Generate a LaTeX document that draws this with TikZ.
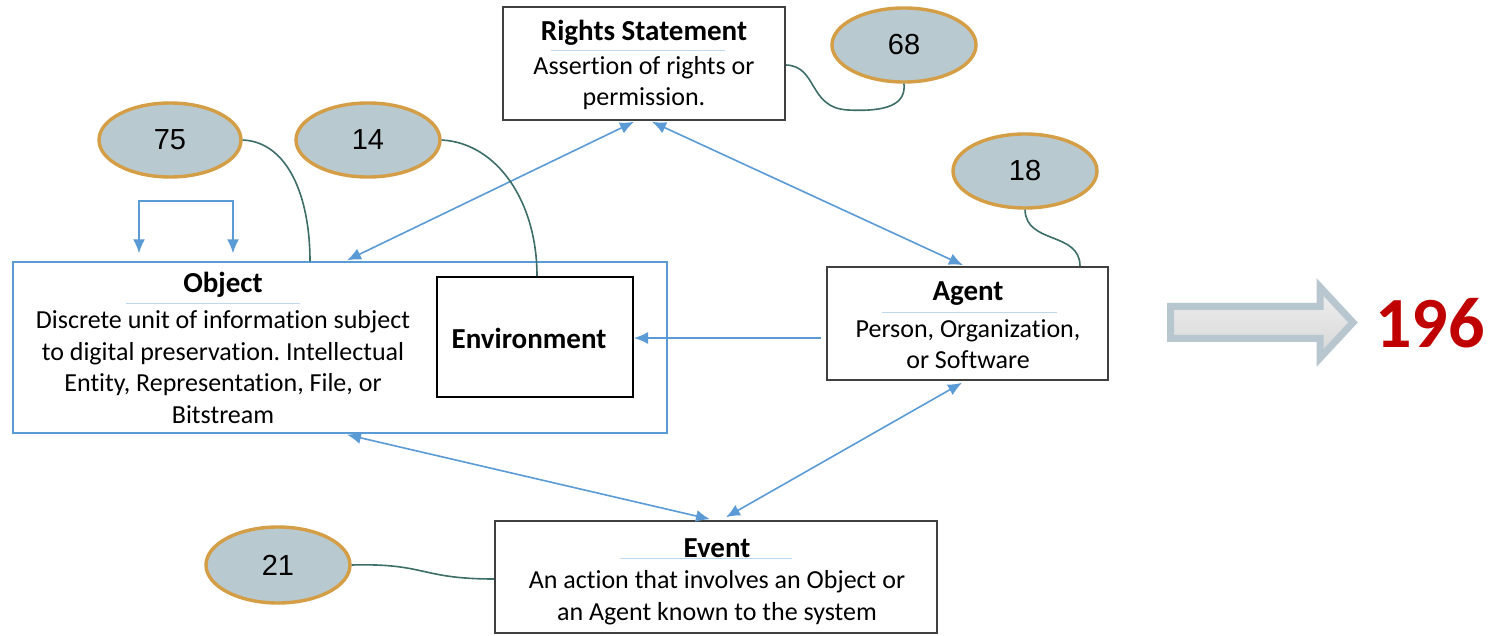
\documentclass[tikz,border=0pt]{standalone}
\usepackage{fontspec}
\setmainfont{Carlito}[Ligatures=NoCommon]
\newfontfamily\numfont{Liberation Sans}
\usetikzlibrary{arrows.meta,shapes.geometric,calc}
\frenchspacing

\definecolor{linkblue}{HTML}{5B9BD5}
\definecolor{tealline}{HTML}{3D6E68}
\definecolor{countfill}{HTML}{B9C9D0}
\definecolor{countgold}{HTML}{D39E45}
\definecolor{boxgray}{HTML}{404040}
\definecolor{ulblue}{HTML}{BDD7EE}
\definecolor{totalred}{HTML}{C00000}
\definecolor{blockedge}{HTML}{B8C7CF}

\begin{document}
\begin{tikzpicture}[x=1pt,y=-1pt,
  entity/.style={draw=boxgray, line width=1.6pt, rectangle, inner sep=0pt},
  titletext/.style={font=\bfseries\fontsize{29}{34}\selectfont, inner sep=0pt},
  desctext/.style={font=\fontsize{26}{31.6}\selectfont, align=center, inner sep=0pt},
  titlerule/.style={draw=ulblue, line width=1pt},
  count/.style={ellipse, draw=countgold, fill=countfill, line width=3.4pt,
    font=\numfont\fontsize{29}{32}\selectfont, inner sep=0pt},
  link/.style={draw=linkblue, line width=1.6pt, {Latex[length=14pt,width=12pt]}-{Latex[length=14pt,width=12pt]}},
  onelink/.style={draw=linkblue, line width=1.6pt, -{Latex[length=14pt,width=12pt]}},
  tally/.style={draw=tealline, line width=1.6pt},
]
\useasboundingbox (0,0) rectangle (1489,636);
\fill[white] (0,0) rectangle (1489,636);

% ---- entity boxes ----
\node[entity, minimum width=282pt, minimum height=113pt] (rights) at (644,63.5) {};
\node[entity, draw=linkblue, line width=1.4pt, minimum width=654pt, minimum height=171pt] (obj) at (340,347.5) {};
\node[entity, draw=black, line width=2pt, minimum width=196pt, minimum height=120pt] (env) at (535,337) {};
\node[entity, minimum width=281pt, minimum height=113pt] (agent) at (967.5,323.5) {};
\node[entity, minimum width=442pt, minimum height=112pt] (event) at (716,577) {};

% ---- titles, rules and descriptions ----
\node[titletext] (rightsT) at (644,33) {Rights Statement};
\draw[titlerule] ($(rights.north)+(-93,44)$) -- ++(174,0);
\node[desctext] (rightsD) at (644,83) {Assertion of rights or\\permission.};

\node[titletext] (objT) at (223,285) {Object};
\draw[titlerule] ($(obj.north)+(-214,42)$) -- ++(174,0);
\node[desctext] (objD) at (223,367) {Discrete unit of information subject\\to digital preservation. Intellectual\\Entity, Representation, File, or\\Bitstream};

\node[titletext] (envT) at (529,338) {Environment};

\node[titletext] (agentT) at (968,294) {Agent};
\draw[titlerule] ($(agent.north)+(-85.5,46)$) -- ++(175,0);
\node[desctext] (agentD) at (968,344) {Person, Organization,\\or Software};

\node[titletext] (eventT) at (717,548) {Event};
\draw[titlerule] ($(event.north)+(-96,38)$) -- ++(172,0);
\node[desctext] (eventD) at (717,598) {An action that involves an Object or\\an Agent known to the system};

% ---- count ellipses ----
\node[count, minimum width=142pt, minimum height=74pt] (c75) at (170,140) {75};
\node[count, minimum width=144pt, minimum height=74pt] (c14) at (368,140) {14};
\node[count, minimum width=144pt, minimum height=74pt] (c18) at (1025,171) {18};
\node[count, minimum width=144pt, minimum height=74pt] (c68) at (904,45) {68};
\node[count, minimum width=144pt, minimum height=76pt] (c21) at (278,565) {21};

% ---- relationships ----
\draw[link] ($(rights.south)+(-10,1)$) -- ($(obj.north)+(7,-1)$);
\draw[link] ($(rights.south)+(8,1)$) -- ($(agent.north)+(-4.5,-1)$);
\draw[onelink] ($(agent.west)+(-5,14.5)$) -- ($(env.east)+(0,1)$);
\draw[link] ($(obj.south)+(7,1)$) -- ($(event.north)+(-6,-1)$);
\draw[link] ($(agent.south)+(-5.5,2)$) -- ($(event.north)+(10,-3)$);
\draw[link] ($(obj.north)+(-201,-8)$) |- ($(obj.north)+(-154,-60)$) -| ($(obj.north)+(-107,-8)$);

% ---- count leaders ----
\draw[tally] (c75.east) .. controls +(45,2) and +(0,-65) .. ($(obj.north)+(-30,0)$);
\draw[tally] (c14.east) .. controls +(55,3) and +(0,-75) .. ($(env.north)+(2,0)$);
\draw[tally] (c18.south) .. controls +(1,35) and +(0,-35) .. ($(agent.north)+(112.5,0)$);
\draw[tally] ($(rights.east)+(0,1.5)$) .. controls (818,66) and (808,108) .. (848,110)
  .. controls (888,112) and (906,104) .. (c68.south);
\draw[tally] (c21.east) .. controls +(75,-2) and +(-75,0) .. ($(event.west)+(0,2)$);

% ---- total ----
\draw[draw=blockedge, line width=7pt, line join=miter, top color=white!94!black, bottom color=white!84!black]
  (1170.5,306.5) -- (1320,306.5) -- (1320,287) -- (1353,322.5) -- (1320,358) -- (1320,338.5) -- (1170.5,338.5) -- cycle;
\node[font=\bfseries\fontsize{72}{72}\selectfont, text=totalred, inner sep=0pt] (total) at (1430,323) {196};
\end{tikzpicture}
\end{document}
